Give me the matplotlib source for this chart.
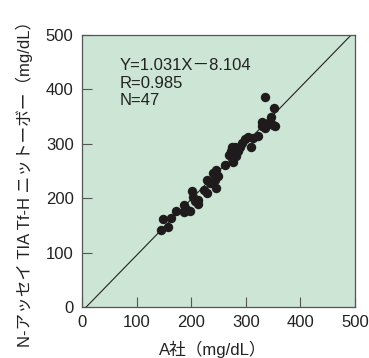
import matplotlib
matplotlib.use("Agg")
import matplotlib.pyplot as plt
import numpy as np

plt.rcParams['font.family'] = ['Liberation Sans', 'Noto Sans CJK JP', 'DejaVu Sans']

x_vals = [145, 149, 157, 164, 172, 187, 187, 198, 202, 204, 207, 212, 213, 223, 229,
          229, 234, 240, 243, 245, 250, 246, 262, 270, 277, 273, 281, 285, 289, 294,
          298, 305, 309, 314, 323, 329, 330, 335, 335, 341, 346, 352, 349, 353, 274,
          283, 191]
y_vals = [142, 162, 147, 163, 177, 174, 188, 176, 214, 203, 194, 190, 197, 215, 210,
          233, 228, 246, 234, 218, 241, 252, 261, 280, 267, 286, 295, 286, 294, 301,
          308, 312, 294, 310, 315, 332, 341, 329, 387, 339, 349, 365, 335, 333, 295,
          277, 181]
slope, intercept = 1.031, -8.104
ticks = [0, 100, 200, 300, 400, 500]

fig = plt.figure(figsize=(3.69, 3.58), dpi=100)
ax = fig.add_axes([0.222, 0.1425, 0.740, 0.7595])
ax.set_facecolor('#cce5d4')
ax.set_xlim(0, 500)
ax.set_ylim(0, 500)

lx = np.array([(0 - intercept) / slope, 500])
ax.plot(lx, slope * lx + intercept, color='#222222', lw=0.8, zorder=2)
ax.scatter(x_vals, y_vals, s=46, color='#1f1b1c', zorder=3, linewidths=0)

ax.set_xticks(ticks)
ax.set_yticks(ticks)
ax.tick_params(direction='in', length=7, width=0.8, color='#555555',
               labelsize=12, labelcolor='#222222')
ax.tick_params(axis='x', pad=6)
ax.tick_params(axis='y', pad=6)
for s in ax.spines.values():
    s.set_color('#555555')
    s.set_linewidth(0.9)

ax.text(0.139, 0.915, 'Y=1.031X－8.104\nR=0.985\nN=47', transform=ax.transAxes,
        va='top', ha='left', fontsize=12, color='#222222', linespacing=1.2)

ax.set_xlabel('A社（mg/dL）', fontsize=12, color='#222222')
ax.set_ylabel('N-アッセイ TIA Tf-H ニットーボー（mg/dL）', fontsize=12,
              color='#222222')
ax.xaxis.set_label_coords(0.48, -0.125)
ax.yaxis.set_label_coords(-0.18, 0.467)

fig.savefig('out.png', dpi=100)
